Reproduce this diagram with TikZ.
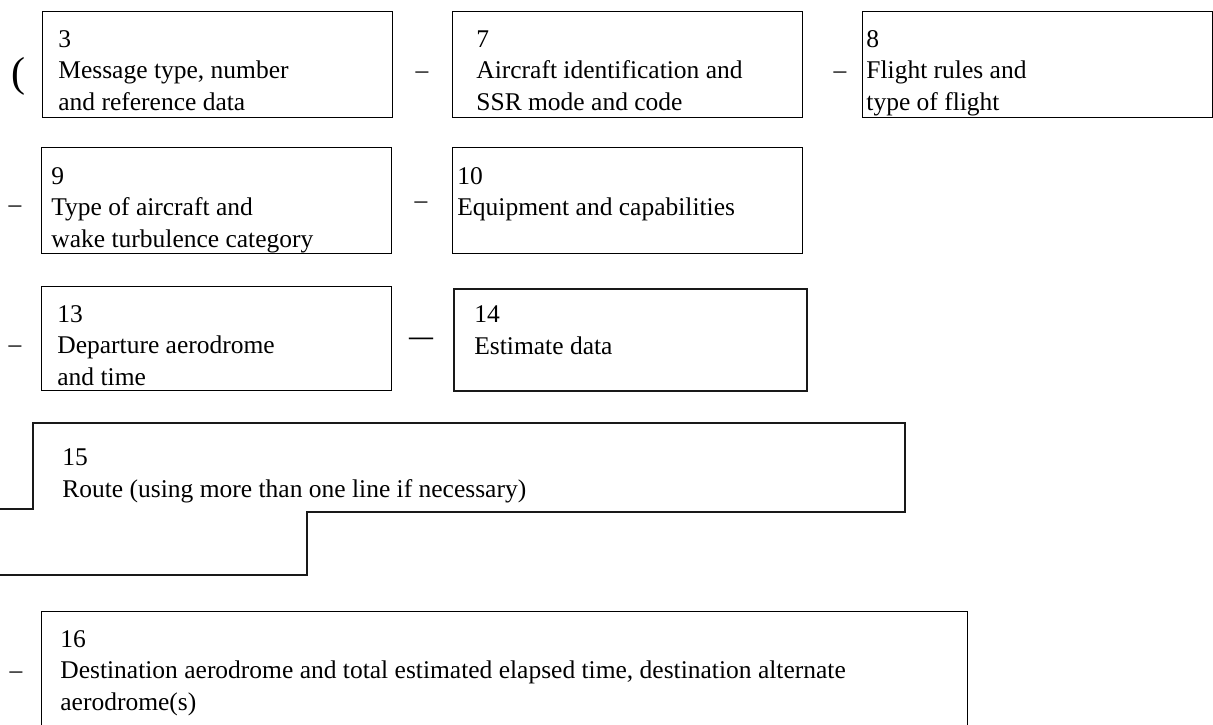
\documentclass[tikz,border=0pt]{standalone}
\usepackage{fontspec}
\setmainfont{Liberation Serif}
\usetikzlibrary{positioning}

\begin{document}
\begin{tikzpicture}[x=0.5pt, y=-0.5pt,
    box/.style={rectangle, draw, line width=0.55pt, minimum width=175pt,
                minimum height=53pt, anchor=north west, inner sep=0pt},
    heavybox/.style={box, line width=1.1pt, draw=black!90},
    txt/.style={anchor=base west, align=left, inner sep=0pt,
                font=\fontsize{12.75}{15.75}\selectfont},
    sep/.style={anchor=base, inner sep=0pt, font=\fontsize{12.75}{15.75}\selectfont},
    route/.style={line width=1pt, draw=black!90}
  ]
  \useasboundingbox (0,0) rectangle (1213,724);

  % row 1
  \node[sep, font=\fontsize{21}{24}\selectfont] (open) at (18,86) {(};
  \node[box] (b3) at (42,11) {};
  \node[txt] (t3) at ([shift={(16,99)}]b3.north west) {3\\Message type, number\\and reference data};
  \node[sep] (d37) at (422,78) {–};
  \node[box] (b7) at (452,11) {};
  \node[txt] (t7) at ([shift={(24,99)}]b7.north west) {7\\Aircraft identification and\\SSR mode and code};
  \node[sep] (d78) at (840,78) {–};
  \node[box] (b8) at (862,11) {};
  \node[txt] (t8) at ([shift={(4,99)}]b8.north west) {8\\Flight rules and\\type of flight};

  % row 2
  \node[sep] (d9) at (15,212) {–};
  \node[box] (b9) at (41,147) {};
  \node[txt] (t9) at ([shift={(10,100)}]b9.north west) {9\\Type of aircraft and\\wake turbulence category};
  \node[sep] (d910) at (421,208) {–};
  \node[box] (b10) at (452,147) {};
  \node[txt] (t10) at ([shift={(5,68.5)}]b10.north west) {10\\Equipment and capabilities};

  % row 3
  \node[sep] (d13) at (15,352) {–};
  \node[box, minimum height=52pt] (b13) at (41,286) {};
  \node[txt] (t13) at ([shift={(16,99)}]b13.north west) {13\\Departure aerodrome\\and time};
  \node[sep, font=\fontsize{12}{15}\selectfont\bfseries] (d1314) at (421,344) {—};
  \node[heavybox, minimum width=176.5pt, minimum height=51pt] (b14) at (453,288) {};
  \node[txt] (t14) at ([shift={(21,66)}]b14.north west) {14\\Estimate data};

  % route field
  \coordinate (r1) at (0,509);
  \coordinate (r2) at (33,509);
  \coordinate (r3) at (33,423);
  \coordinate (r4) at (905,423);
  \coordinate (r5) at (905,512);
  \coordinate (r6) at (307,512);
  \coordinate (r7) at (307,575);
  \coordinate (r8) at (0,575);
  \draw[route] (r1) -- (r2) -- (r3) -- (r4) -- (r5) -- (r6) -- (r7) -- (r8);
  \node[txt] (t15) at (62,497) {15\\Route (using more than one line if necessary)};

  % row 4
  \node[sep] (d16) at (16,678) {–};
  \node[box, minimum width=463pt, minimum height=80pt] (b16) at (41,611) {};
  \node[txt] (t16) at ([shift={(19,99)}]b16.north west) {16\\Destination aerodrome and total estimated elapsed time, destination alternate\\aerodrome(s)};

\end{tikzpicture}
\end{document}
